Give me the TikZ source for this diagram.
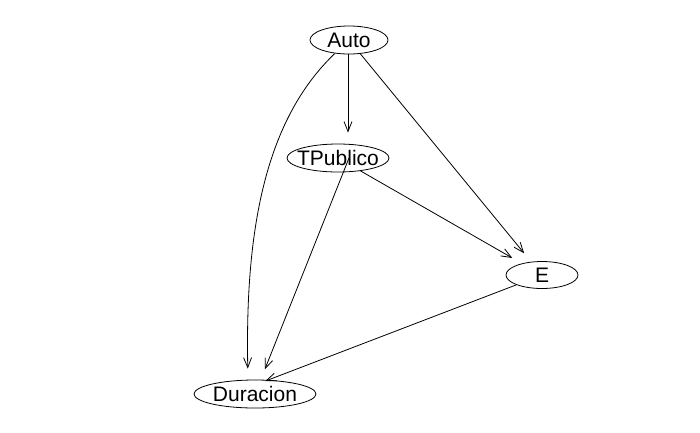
\documentclass[tikz,border=0pt]{standalone}
\usepackage{fontspec}
\setmainfont{Liberation Sans}
\usetikzlibrary{shapes.geometric,arrows.meta}
\newcommand{\lbl}[1]{\makebox[0pt]{#1}}
\begin{document}
\begin{tikzpicture}[x=1pt,y=-1pt,
  nd/.style={ellipse,draw,line width=0.8pt,inner sep=0pt,minimum height=28pt,font=\fontsize{21}{25}\selectfont},
  ed/.style={line width=0.8pt,-{Straight Barb[length=10pt,width=8pt]},shorten >=11pt}]
\useasboundingbox (0,0) rectangle (700,432);
\node[nd,minimum width=78pt] (auto) at (349,40) {\lbl{Auto}};
\node[nd,minimum width=102pt] (tp) at (338,158) {\lbl{TPublico}};
\node[nd,minimum width=72pt,minimum height=27pt] (e) at (542,275) {\lbl{E}};
\node[nd,minimum width=122pt] (dur) at (255,394) {\lbl{Duracion}};
\draw[ed] ([xshift=-1pt]auto.south) -- ([xshift=10pt]tp.north);
\draw[ed] (auto) -- (e);
\draw[ed] (auto) .. controls (265,120) and (245,230) .. ([xshift=-7pt]dur.north);
\draw[ed] ([xshift=11pt]tp.center) -- (dur);
\draw[ed] (tp) -- (e);
\draw[ed] (e) -- ([yshift=9pt]dur.center);
\end{tikzpicture}
\end{document}
